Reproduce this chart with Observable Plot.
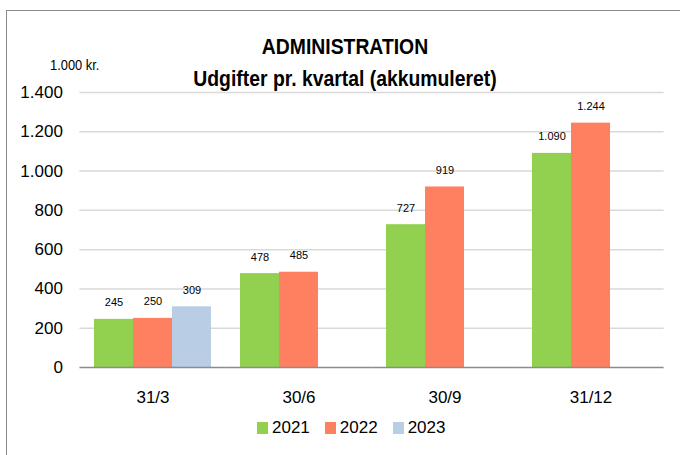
<!DOCTYPE html>
<html>
<head>
<meta charset="utf-8">
<script src="https://cdn.jsdelivr.net/npm/d3@7"></script>
<script src="https://cdn.jsdelivr.net/npm/@observablehq/plot@0.6"></script>
<style>
  html, body { margin: 0; padding: 0; background: #fff; }
  #wrap { position: relative; width: 680px; height: 455px; overflow: hidden; background: #fff;
          font-family: "Liberation Sans Narrow", "Liberation Sans", sans-serif; color: #000; }
  #frame { position: absolute; left: 6px; top: 10px; width: 720px; height: 520px;
           border: 1.5px solid #8c8c8c; box-sizing: border-box; }
  #plot { position: absolute; left: 0; top: 0; }
  .ttl { position: absolute; left: 0; width: 690px; text-align: center; font-weight: bold; font-size: 22px; line-height: 1; white-space: nowrap;
         transform: scaleX(0.88); transform-origin: 345px 0; }
  #unit { position: absolute; left: 50px; top: 57px; font-size: 14px; white-space: nowrap; transform: scaleX(0.92); transform-origin: 0 0; }
  #legend { position: absolute; left: 257px; top: 418px; display: flex; align-items: center; font-size: 17px; white-space: nowrap; }
  .sw { display: inline-block; width: 11px; height: 12px; margin-right: 4px; }
  .item { display: flex; align-items: center; margin-right: 15px; }
</style>
</head>
<body>
<div id="wrap">
  <div id="frame"></div>
  <div id="plot"></div>
  <div class="ttl" style="top:36px">ADMINISTRATION</div>
  <div class="ttl" style="top:68px">Udgifter pr. kvartal (akkumuleret)</div>
  <div id="unit">1.000 kr.</div>
  <div id="legend"></div>
</div>
<script>
const quarters = ["31/3", "30/6", "30/9", "31/12"];
const years = ["2021", "2022", "2023"];
const colors = ["#92D050", "#FF7F61", "#B9CDE5"];
const v2021 = [245, 478, 727, 1090];
const v2022 = [250, 485, 919, 1244];
const v2023 = [309, null, null, null];
const yTicks = [0, 200, 400, 600, 800, 1000, 1200, 1400];

const series = {"2021": v2021, "2022": v2022, "2023": v2023};
const data = [];
quarters.forEach((q, i) => years.forEach(y => {
  const v = series[y][i];
  if (v != null) data.push({q, year: y, value: v});
}));

const fmt = d => d3.format(",")(d).replace(/,/g, ".");
const ext = -14.6;

const plot = Plot.plot({
  width: 680,
  height: 455,
  marginLeft: 79,
  marginRight: 17,
  marginTop: 92,
  marginBottom: 88,
  style: {fontFamily: '"Liberation Sans Narrow", "Liberation Sans", sans-serif', fontSize: "17px", color: "#000", background: "transparent"},
  fx: {domain: quarters, paddingInner: 0.2, paddingOuter: 0.1, axis: "bottom", tickSize: 0, tickPadding: 23, label: null},
  x: {domain: years, padding: 0, axis: null},
  y: {domain: [0, 1400], ticks: yTicks, tickSize: 0, tickPadding: 31.6, tickFormat: fmt, label: null},
  color: {domain: years, range: colors},
  marks: [
    Plot.ruleY(yTicks.slice(1), {stroke: "#d9d9d9", strokeWidth: 1.5, insetLeft: ext, insetRight: ext}),
    Plot.barY(data, {fx: "q", x: "year", y: "value", fill: "year"}),
    Plot.ruleY([0], {stroke: "#8c8c8c", strokeWidth: 1.5, insetLeft: ext, insetRight: ext}),
    Plot.text(data, {fx: "q", x: "year", y: "value", text: d => fmt(d.value), dy: -13, lineAnchor: "bottom", fontSize: 11, fill: "#000"})
  ]
});
document.getElementById("plot").appendChild(plot);

const legend = document.getElementById("legend");
years.forEach((y, i) => {
  const it = document.createElement("div");
  it.className = "item";
  const sw = document.createElement("span");
  sw.className = "sw";
  sw.style.background = colors[i];
  it.appendChild(sw);
  it.appendChild(document.createTextNode(y));
  legend.appendChild(it);
});
</script>
</body>
</html>
